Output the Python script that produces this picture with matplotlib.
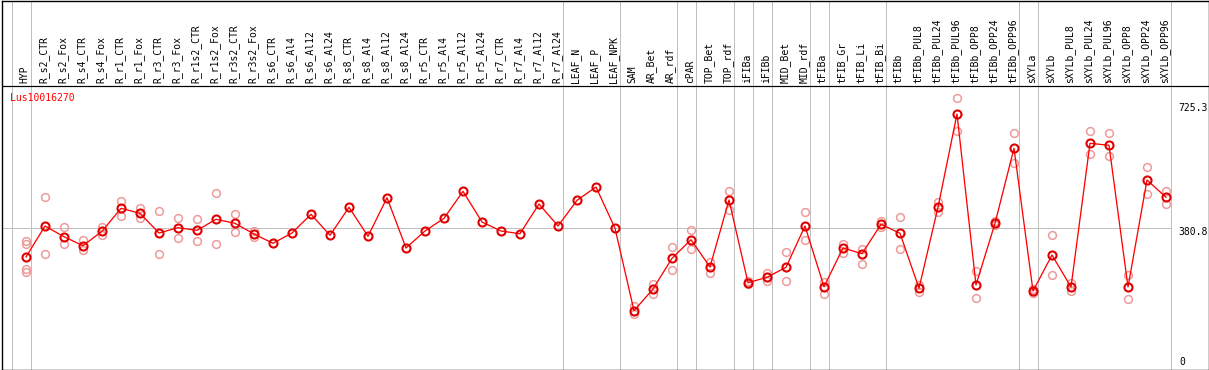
import matplotlib
matplotlib.use("Agg")
import matplotlib.pyplot as plt

# ---------------- data ----------------
gene = "Lus10016270"
categories = [
    "HYP", "R_s2_CTR", "R_s2_Fox", "R_s4_CTR", "R_s4_Fox", "R_r1_CTR", "R_r1_Fox",
    "R_r3_CTR", "R_r3_Fox", "R_r1s2_CTR", "R_r1s2_Fox", "R_r3s2_CTR", "R_r3s2_Fox",
    "R_s6_CTR", "R_s6_Al4", "R_s6_Al12", "R_s6_Al24", "R_s8_CTR", "R_s8_Al4",
    "R_s8_Al12", "R_s8_Al24", "R_r5_CTR", "R_r5_Al4", "R_r5_Al12", "R_r5_Al24",
    "R_r7_CTR", "R_r7_Al4", "R_r7_Al12", "R_r7_Al24", "LEAF_N", "LEAF_P", "LEAF_NPK",
    "SAM", "AR_Bet", "AR_rdf", "cPAR", "TOP_Bet", "TOP_rdf", "iFIBa", "iFIBb",
    "MID_Bet", "MID_rdf", "tFIBa", "tFIB_Gr", "tFIB_Li", "tFIB_Bi", "tFIBb",
    "tFIBb_PUL8", "tFIBb_PUL24", "tFIBb_PUL96", "tFIBb_OPP8", "tFIBb_OPP24",
    "tFIBb_OPP96", "sXYLa", "sXYLb", "sXYLb_PUL8", "sXYLb_PUL24", "sXYLb_PUL96",
    "sXYLb_OPP8", "sXYLb_OPP24", "sXYLb_OPP96",
]
means = [
    293.2, 386.8, 354.5, 327.3, 370.8, 440.3, 425.2, 365.7, 381.7, 373.8,
    407.1, 395.0, 362.7, 334.6, 365.7, 422.2, 358.7, 443.4, 355.7, 472.4,
    320.4, 371.7, 410.1, 491.7, 398.9, 371.7, 363.6, 453.3, 386.8, 464.5,
    504.7, 379.9, 130.9, 196.5, 289.2, 345.4, 262.9, 465.4, 215.5, 231.8,
    262.0, 386.8, 203.4, 320.4, 303.1, 392.0, 364.8, 198.6, 443.4, 725.3,
    208.5, 395.0, 621.7, 190.4, 299.2, 202.5, 636.8, 630.7, 202.5, 525.9,
    473.6,
]
replicates = [
    [342.4, 332.4, 257.8, 246.9], [474.5, 302.2], [382.9, 331.5], [344.5, 314.3],
    [384.7, 360.6], [462.4, 418.0], [442.1, 411.9], [432.2, 301.3], [410.1, 351.5],
    [408.9, 340.6], [486.6, 331.5], [423.1, 367.8], [370.8, 352.7],
    [], [], [], [], [], [], [], [], [], [], [], [], [], [], [], [], [], [], [],
    [145.1, 120.0], [210.7, 181.3], [322.5, 253.0], [374.8, 316.4], [279.0, 245.7],
    [491.7, 436.1], [220.6, 210.7], [245.7, 220.6], [307.4, 220.6], [428.2, 344.5],
    [218.5, 182.3], [332.4, 306.2], [318.2, 272.0], [402.9, 383.8], [414.0, 316.4],
    [208.5, 188.3], [458.5, 430.1], [772.8, 674.8], [251.8, 168.4], [402.0, 389.9],
    [667.0, 578.1], [195.6, 183.5], [359.6, 237.9], [215.5, 191.3], [673.9, 604.4],
    [667.0, 598.4], [238.8, 165.3], [564.2, 483.5], [492.6, 452.4],
]
separators_after = [-1, 0, 28, 31, 34, 35, 37, 38, 39, 41, 42, 45, 52, 53, 60]
max_label = "725.3"
mid_value = 380.8
mid_label = "380.8"
zero_label = "0"

# ---------------- layout (pixels) ----------------
W, H, DPI = 1209, 370, 100
X0_PX, DX_PX = 26.0, 19.0          # first column pixel, column spacing
MID_Y_PX, PX_PER_UNIT = 228.0, 0.3309

def px2i(px):
    return (px - X0_PX) / DX_PX

def py2v(py):
    return mid_value + (MID_Y_PX - py) / PX_PER_UNIT

fig = plt.figure(figsize=(W / DPI, H / DPI), dpi=DPI)
left_px, right_px, top_px, bot_px = 1.5, 1208.5, 0.5, 369.5
ax = fig.add_axes([left_px / W, (H - bot_px) / H, (right_px - left_px) / W, (bot_px - top_px) / H])
ax.set_xlim(px2i(left_px), px2i(right_px))
ax.set_ylim(py2v(bot_px), py2v(top_px))
ax.set_xticks([])
ax.set_yticks([])
for s in ax.spines.values():
    s.set_linewidth(1.0)
    s.set_color("black")

mono = "DejaVu Sans Mono"
grid_c = "#c0c0c0"
lw1 = 72.0 / DPI  # one pixel

# separators
for s in separators_after:
    ax.axvline(s + 0.24, color=grid_c, lw=lw1, zorder=1)
# mid grid line
ax.hlines(mid_value, px2i(left_px), separators_after[-1] + 0.24, color=grid_c, lw=lw1, zorder=1)
# header divider
ax.axhline(py2v(85.5), color="black", lw=lw1 * 1.2, zorder=2)

xs = list(range(len(categories)))
# replicates
rx, ry = [], []
for i, reps in enumerate(replicates):
    for r in reps:
        rx.append(i)
        ry.append(r)
ax.plot(rx, ry, ls="none", marker="o", ms=5.6, mfc="none", mec="#ee9a9a", mew=1.1, zorder=3)
# mean line
ax.plot(xs, means, color="red", lw=lw1 * 1.3, zorder=4)
ax.plot(xs, means, ls="none", marker="o", ms=5.8, mfc="none", mec="#e00000", mew=1.5, zorder=5)

# category labels
for i, c in enumerate(categories):
    ax.text(i - 0.06, py2v(83), c, rotation=90, ha="center", va="bottom",
            fontsize=7, family=mono, color="black", zorder=6)

ax.text(px2i(10), py2v(101), gene, ha="left", va="baseline", fontsize=7, family=mono, color="red")
ax.text(px2i(1178), py2v(111), max_label, ha="left", va="baseline", fontsize=7, family=mono)
ax.text(px2i(1178), py2v(235), mid_label, ha="left", va="baseline", fontsize=7, family=mono)
ax.text(px2i(1179), py2v(365), zero_label, ha="left", va="baseline", fontsize=7, family=mono)

fig.savefig("out.png", dpi=DPI)
